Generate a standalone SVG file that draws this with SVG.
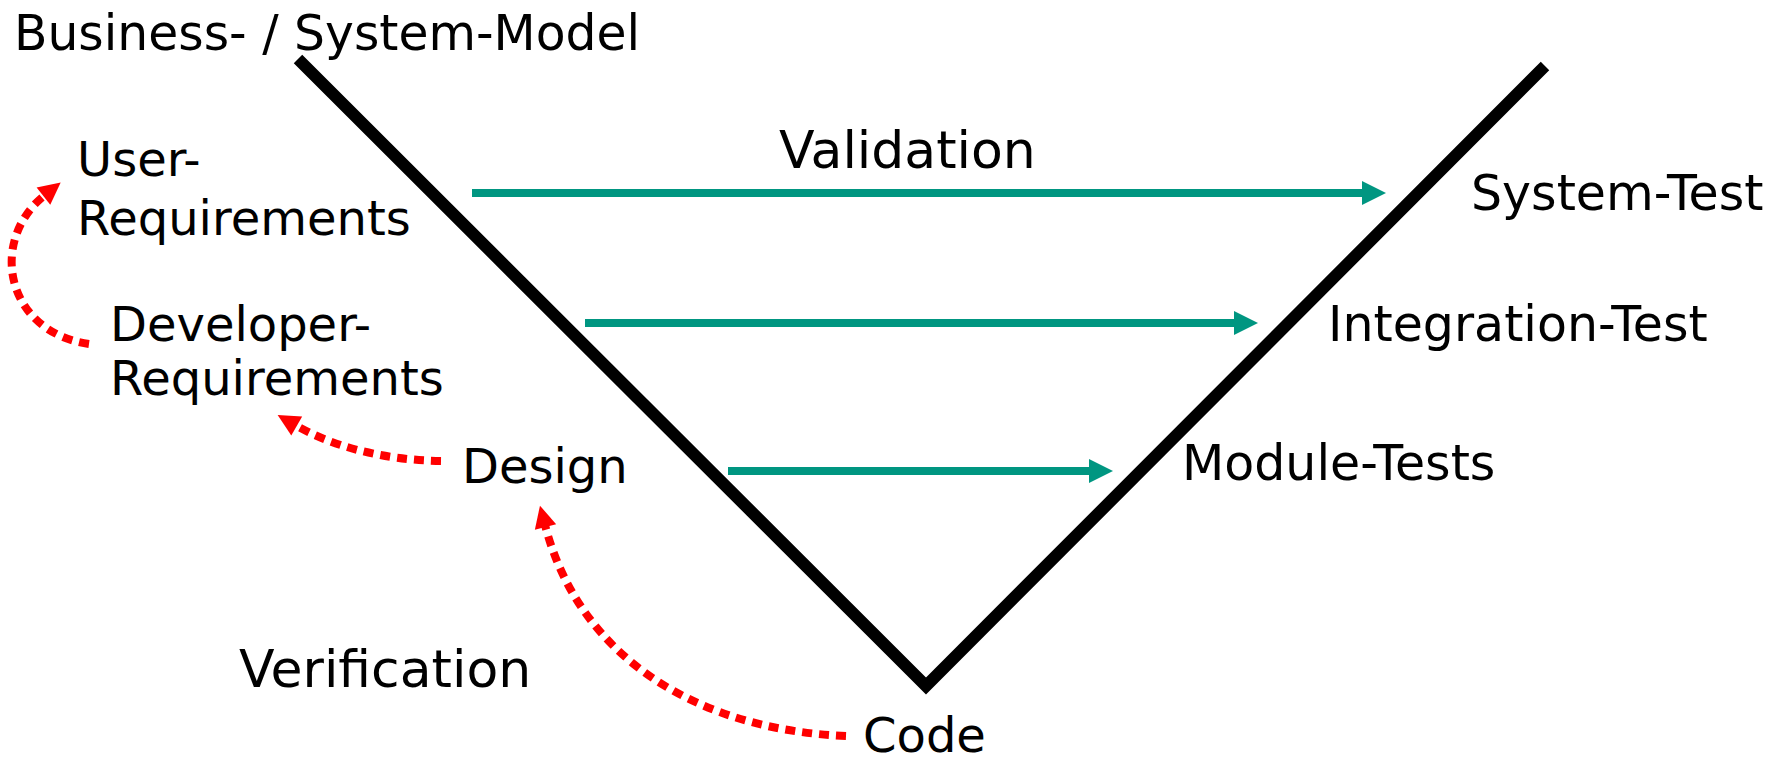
<svg xmlns="http://www.w3.org/2000/svg" width="1781" height="760" viewBox="0 0 1781 760">
  <style>
    .lbl { font-family: "DejaVu Sans", Verdana, sans-serif; font-size: 48px; fill: #000; }
    .test { font-size: 49px; }
    .big { font-size: 52px; }
    .cond { font-family: "DejaVu Sans Condensed", "DejaVu Sans", sans-serif; font-stretch: condensed; font-size: 50px; }
    .v { fill: none; stroke: #000; stroke-width: 12; stroke-linejoin: miter; stroke-linecap: butt; }
    .val { fill: none; stroke: #009681; stroke-width: 8; }
    .ver { fill: none; stroke: #ff0000; stroke-width: 8; stroke-dasharray: 10 7; }
  </style>
  <defs>
    <marker id="headTeal" markerUnits="userSpaceOnUse" markerWidth="24" markerHeight="24" refX="1" refY="12" orient="auto" overflow="visible">
      <path d="M0,0 L24,12 L0,24 z" fill="#009681"/>
    </marker>
    <marker id="headRed" markerUnits="userSpaceOnUse" markerWidth="22" markerHeight="22" refX="2" refY="11" orient="auto" overflow="visible">
      <path d="M0,0 L22,11 L0,22 z" fill="#ff0000"/>
    </marker>
  </defs>

  <rect width="1781" height="760" fill="#fff"/>

  <!-- V shape -->
  <g id="v-shape">
    <polyline class="v" points="298,59 926,686 1545,66"/>
  </g>

  <!-- connectors -->
  <g id="connectors">
    <line class="val" x1="472" y1="193" x2="1363" y2="193" marker-end="url(#headTeal)"/>
    <line class="val" x1="585" y1="323" x2="1235" y2="323" marker-end="url(#headTeal)"/>
    <line class="val" x1="728" y1="471" x2="1090" y2="471" marker-end="url(#headTeal)"/>
    <path class="ver" d="M 89 344 C 5 332, -12 240, 45 195" marker-end="url(#headRed)"/>
    <path class="ver" d="M 441 461 C 380 460, 330 445, 295 425" marker-end="url(#headRed)"/>
    <path class="ver" d="M 846 736 C 700 730, 580 660, 545 525" marker-end="url(#headRed)"/>
  </g>

  <g id="business-model"><text class="lbl cond" x="14" y="50" textLength="626" lengthAdjust="spacingAndGlyphs">Business- / System-Model</text></g>
  <g id="user-req"><text class="lbl" x="77" y="176">User-</text><text class="lbl" x="77" y="235">Requirements</text></g>
  <g id="dev-req"><text class="lbl" x="110" y="341">Developer-</text><text class="lbl" x="110" y="395">Requirements</text></g>
  <g id="design"><text class="lbl" x="462" y="483">Design</text></g>
  <g id="code"><text class="lbl" x="863" y="752">Code</text></g>
  <g id="verification"><text class="lbl big" x="239" y="687">Verification</text></g>
  <g id="validation"><text class="lbl big" x="779" y="168">Validation</text></g>
  <g id="system-test"><text class="lbl test" x="1471" y="210">System-Test</text></g>
  <g id="integration-test"><text class="lbl test" x="1328" y="341">Integration-Test</text></g>
  <g id="module-tests"><text class="lbl test" x="1182" y="480">Module-Tests</text></g>
</svg>
